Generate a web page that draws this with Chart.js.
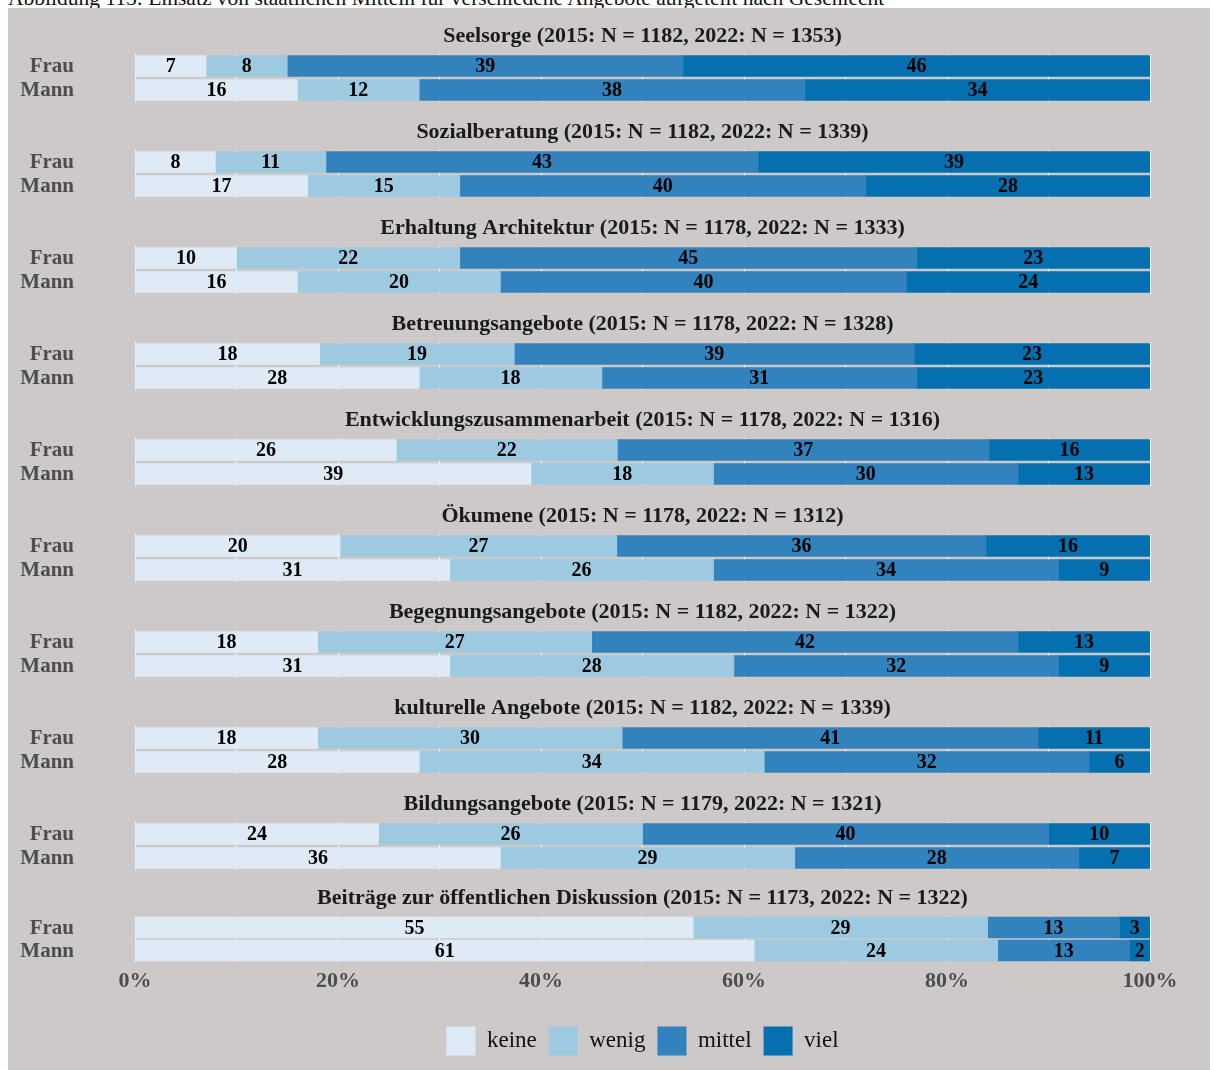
<!DOCTYPE html>
<html>
<head>
<meta charset="utf-8">
<script src="https://cdn.jsdelivr.net/npm/chart.js@4.4.1/dist/chart.umd.min.js"></script>
<style>
  body { margin: 0; background: #fff; width: 1213px; height: 1070px; overflow: hidden; position: relative; }
  #caption { position: absolute; left: 8px; top: -14px; font: 21.5px "Liberation Serif", serif; color: #111; white-space: nowrap; }
  #panels { position: absolute; left: 8px; top: 8px; width: 1202px; height: 1062px; background: #cdc9c8; }
  .panel { position: relative; width: 1202px; height: 96px; }
  .panel.last { height: 198px; }
</style>
</head>
<body>
<div id="caption">Abbildung 115: Einsatz von staatlichen Mitteln für verschiedene Angebote aufgeteilt nach Geschlecht</div>
<div id="panels"></div>
<script>
// Einsatz staatlicher Mittel nach Geschlecht

const groups = ['Frau', 'Mann']
const levels = ['keine', 'wenig', 'mittel', 'viel']
const levelColors = ['#deebf7', '#9ecae1', '#3182bd', '#0570b0']

const titles = [
    'Seelsorge (2015: N = 1182, 2022: N = 1353)',
    'Sozialberatung (2015: N = 1182, 2022: N = 1339)',
    'Erhaltung Architektur (2015: N = 1178, 2022: N = 1333)',
    'Betreuungsangebote (2015: N = 1178, 2022: N = 1328)',
    'Entwicklungszusammenarbeit (2015: N = 1178, 2022: N = 1316)',
    'Ökumene (2015: N = 1178, 2022: N = 1312)',
    'Begegnungsangebote (2015: N = 1182, 2022: N = 1322)',
    'kulturelle Angebote (2015: N = 1182, 2022: N = 1339)',
    'Bildungsangebote (2015: N = 1179, 2022: N = 1321)',
    'Beiträge zur öffentlichen Diskussion (2015: N = 1173, 2022: N = 1322)'
]

// per panel: [Frau, Mann] for each level
const keine  = [[7, 16], [8, 17], [10, 16], [18, 28], [26, 39], [20, 31], [18, 31], [18, 28], [24, 36], [55, 61]]
const wenig  = [[8, 12], [11, 15], [22, 20], [19, 18], [22, 18], [27, 26], [27, 28], [30, 34], [26, 29], [29, 24]]
const mittel = [[39, 38], [43, 40], [45, 40], [39, 31], [37, 30], [36, 34], [42, 32], [41, 32], [40, 28], [13, 13]]
const viel   = [[46, 34], [39, 28], [23, 24], [23, 23], [16, 13], [16, 9], [13, 9], [11, 6], [10, 7], [3, 2]]

const xTicks = [0, 20, 40, 60, 80, 100]

const serif = '"Liberation Serif", "Times New Roman", serif'

const valueLabels = {
    id: 'valueLabels',
    afterDatasetsDraw(chart) {
        const ctx = chart.ctx
        ctx.save()
        ctx.font = 'bold 20px ' + serif
        ctx.fillStyle = '#000'
        ctx.textAlign = 'center'
        ctx.textBaseline = 'middle'
        chart.data.datasets.forEach((ds, i) => {
            chart.getDatasetMeta(i).data.forEach((bar, j) => {
                const p = bar.getCenterPoint()
                ctx.fillText(ds.rawValues[j], p.x, p.y + 1)
            })
        })
        ctx.restore()
    }
}

// Frau / Mann on the left, far from the bars like in the print
const groupLabels = {
    id: 'groupLabels',
    afterDraw(chart) {
        const ctx = chart.ctx
        const y = chart.scales.y
        ctx.save()
        ctx.font = 'bold 21px ' + serif
        ctx.fillStyle = '#4d4d4d'
        ctx.textAlign = 'right'
        ctx.textBaseline = 'middle'
        chart.data.labels.forEach((lab, j) => {
            ctx.fillText(lab, chart.chartArea.left - 61, y.getPixelForValue(j) + 1)
        })
        ctx.restore()
    }
}

const container = document.getElementById('panels')

const makePanel = (idx) => {
    const isLast = idx === titles.length - 1
    const div = document.createElement('div')
    div.className = isLast ? 'panel last' : 'panel'
    const canvas = document.createElement('canvas')
    div.appendChild(canvas)
    container.appendChild(div)

    const series = [keine[idx], wenig[idx], mittel[idx], viel[idx]]
    // row totals, bars are shown as 100% stacks
    const totals = groups.map((g, j) => series.reduce((s, arr) => s + arr[j], 0))

    const datasets = levels.map((lvl, k) => ({
        label: lvl,
        rawValues: series[k],
        data: series[k].map((v, j) => v / totals[j] * 100),
        backgroundColor: levelColors[k],
        borderWidth: 0,
        barThickness: 21
    }))

    new Chart(canvas, {
        type: 'bar',
        data: { labels: groups, datasets: datasets },
        plugins: [valueLabels, groupLabels],
        options: {
            indexAxis: 'y',
            responsive: true,
            maintainAspectRatio: false,
            animation: false,
            // left padding holds the Frau/Mann labels so titles centre over the bars
            layout: { padding: { top: 0, right: 60, bottom: isLast ? 4.5 : 2, left: 127 } },
            plugins: {
                title: {
                    display: true,
                    text: titles[idx],
                    color: '#1a1a1a',
                    font: { family: serif, size: 22, weight: 'bold', lineHeight: 1.2 },
                    padding: { top: isLast ? 12.8 : 14.8, bottom: 4.8 }
                },
                legend: {
                    display: isLast,
                    position: 'bottom',
                    labels: {
                        boxWidth: 29,
                        boxHeight: 29,
                        padding: 12,
                        color: '#111',
                        font: { family: serif, size: 23 }
                    }
                },
                tooltip: { enabled: false }
            },
            scales: {
                x: {
                    stacked: true,
                    min: 0,
                    max: 100,
                    border: { display: false },
                    grid: { color: 'rgba(255,255,255,0.85)', lineWidth: 1, drawTicks: false },
                    ticks: {
                        display: isLast,
                        stepSize: 10,
                        padding: 6,
                        color: '#4d4d4d',
                        font: { family: serif, size: 22, weight: 'bold' },
                        callback: (v) => xTicks.includes(v) ? v + '%' : ''
                    },
                    afterFit: (scale) => { scale.height = isLast ? 52.5 : 0 }
                },
                y: {
                    stacked: true,
                    border: { display: false },
                    grid: { display: false, drawTicks: false },
                    ticks: { display: false },
                    afterFit: (scale) => { scale.width = 0 }
                }
            }
        }
    })
}

for (let i = 0; i < titles.length; i++) {
    makePanel(i)
}
</script>
</body>
</html>
